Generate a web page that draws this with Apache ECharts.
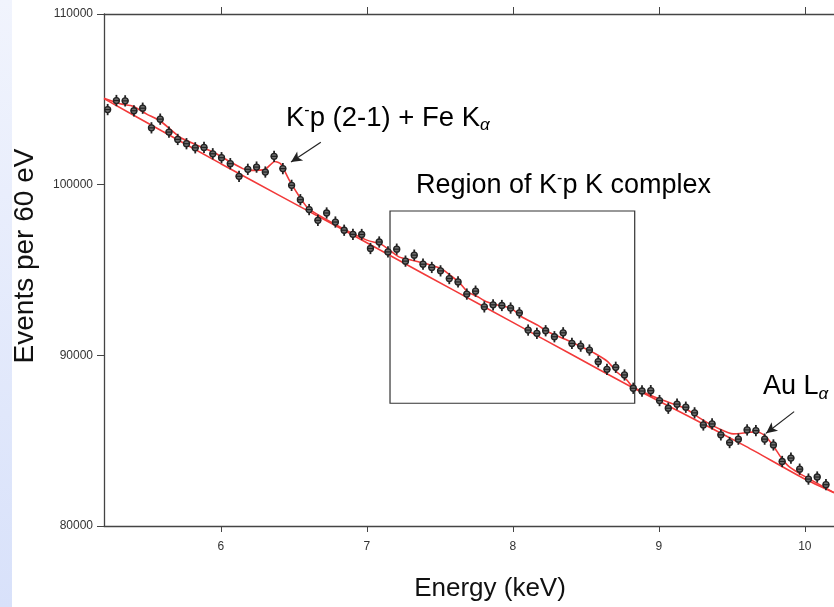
<!DOCTYPE html>
<html>
<head>
<meta charset="utf-8">
<title>Events per 60 eV</title>
<script src="https://cdn.jsdelivr.net/npm/echarts@6/dist/echarts.min.js"></script>
<style>
  html, body { margin: 0; padding: 0; background: #fff; }
  #chart { width: 834px; height: 607px; }
</style>
</head>
<body>
<div id="chart"></div>
<script>
// measured spectrum, 60 eV bins
var energies = [
  5.225, 5.285, 5.345, 5.405, 5.465, 5.525, 5.585, 5.645, 5.705, 5.765,
  5.825, 5.885, 5.945, 6.005, 6.065, 6.125, 6.185, 6.245, 6.305, 6.365,
  6.425, 6.485, 6.545, 6.605, 6.665, 6.725, 6.785, 6.845, 6.905, 6.965,
  7.025, 7.085, 7.145, 7.205, 7.265, 7.325, 7.385, 7.445, 7.505, 7.565,
  7.625, 7.685, 7.745, 7.805, 7.865, 7.925, 7.985, 8.045, 8.105, 8.165,
  8.225, 8.285, 8.345, 8.405, 8.465, 8.525, 8.585, 8.645, 8.705, 8.765,
  8.825, 8.885, 8.945, 9.005, 9.065, 9.125, 9.185, 9.245, 9.305, 9.365,
  9.425, 9.485, 9.545, 9.605, 9.665, 9.725, 9.785, 9.845, 9.905, 9.965,
  10.025, 10.085, 10.145
];
var counts = [
  104400, 104930, 104910, 104330, 104480, 103330, 103840, 103080, 102650, 102400,
  102160, 102180, 101810, 101580, 101230, 100490, 100900, 101030, 100740, 101660,
  100940, 99960, 99120, 98540, 97910, 98340, 97810, 97330, 97090, 97080,
  96260, 96640, 96060, 96220, 95520, 95870, 95340, 95150, 94950, 94500,
  94300, 93590, 93760, 92840, 92960, 92920, 92770, 92490, 91480, 91290,
  91440, 91090, 91320, 90700, 90540, 90310, 89630, 89180, 89300, 88850,
  88070, 87910, 87930, 87350, 86900, 87140, 86960, 86630, 85920, 85980,
  85340, 84890, 85090, 85630, 85590, 85090, 84750, 83780, 83980, 83330,
  82750, 82870, 82420
];
var errBar = 330;

// continuum background
var bgEnergies = [5.2, 5.6, 6.0, 6.4, 6.8, 7.2, 7.6, 8.0, 8.4, 8.8, 9.2, 9.6, 10.0, 10.2];
var bgCounts = [105040, 103130, 101230, 99370, 97530, 95660, 93790, 91930, 90060, 88200, 86450, 84650, 82750, 81950];

// full fit (background + lines)
var fitEnergies = [5.2, 5.31, 5.40, 5.49, 5.59, 5.72, 5.83, 5.95, 6.06, 6.15, 6.2, 6.3, 6.37, 6.41, 6.47, 6.54, 6.6, 6.8,
  7.0, 7.1, 7.22, 7.31, 7.38, 7.44, 7.51, 7.57, 7.63, 7.69, 7.76, 7.82, 7.9, 7.99, 8.06, 8.17, 8.24, 8.37, 8.47, 8.56,
  8.65, 8.71, 8.78, 8.82, 9.0, 9.14, 9.19, 9.3, 9.42, 9.51, 9.6, 9.67, 9.72, 9.78, 9.84, 9.89, 9.96, 10.2];
var fitCounts = [105060, 104740, 104600, 104150, 103700, 102780, 102340, 101900, 101360, 100940, 100840, 100880, 101360, 101230, 100250, 99280, 98600, 97600,
  96750, 96500, 95770, 95570, 95420, 95280, 95090, 94700, 94300, 93720, 93430, 93140, 92940, 92750, 92260, 91770, 91380, 90900, 90500, 90120,
  89630, 89040, 88560, 88160, 87450, 87030, 86840, 86220, 85670, 85400, 85470, 85530, 85340, 84750, 83980, 83490, 83100, 81960];

var xTicks = [6, 7, 8, 9, 10];
var yTicks = [80000, 90000, 100000, 110000];

var FONT = 'Liberation Sans';
var RED = '#f23a3a';

var chart = echarts.init(document.getElementById('chart'));

function zip(a, b) {
  return a.map(function (v, i) { return [v, b[i]]; });
}

function renderPoint(params, api) {
  var x = api.value(0), y = api.value(1);
  var c = api.coord([x, y]);
  var hi = api.coord([x, y + errBar]);
  var lo = api.coord([x, y - errBar]);
  return {
    type: 'group',
    children: [
      { type: 'line', shape: { x1: c[0], y1: hi[1], x2: c[0], y2: lo[1] }, style: { stroke: '#222', lineWidth: 1.8 } },
      { type: 'circle', shape: { cx: c[0], cy: c[1], r: 3 }, style: { fill: '#6e6e6e', stroke: '#222', lineWidth: 1.3 } },
      { type: 'line', shape: { x1: c[0] - 3.4, y1: c[1], x2: c[0] + 3.4, y2: c[1] }, style: { stroke: '#222', lineWidth: 1.2 } }
    ]
  };
}

var xCommon = {
  type: 'value',
  min: 5.2,
  max: 10.2,
  axisLine: { lineStyle: { color: '#444', width: 1.3 } },
  splitLine: { show: false }
};

var option = {
  animation: false,
  backgroundColor: '#fff',
  grid: { left: 104, right: -5, top: 14, bottom: 81 },
  xAxis: [
    Object.assign({}, xCommon, {
      position: 'bottom',
      axisTick: { length: 6, customValues: xTicks, lineStyle: { color: '#444' } },
      axisLabel: { customValues: xTicks, margin: 15, fontFamily: FONT, fontSize: 12, color: '#333' }
    }),
    Object.assign({}, xCommon, {
      position: 'top',
      axisTick: { length: 7, customValues: xTicks, lineStyle: { color: '#444' } },
      axisLabel: { show: false }
    })
  ],
  yAxis: {
    type: 'value',
    min: yTicks[0],
    max: yTicks[yTicks.length - 1],
    interval: 10000,
    axisLine: { show: true, lineStyle: { color: '#444', width: 1.3 } },
    axisTick: { show: true, length: 7, lineStyle: { color: '#444' } },
    axisLabel: { margin: 11, fontFamily: FONT, fontSize: 12, color: '#333', formatter: function (v) { return String(v); } },
    splitLine: { show: false }
  },
  graphic: [
    {
      type: 'rect', z: -10, silent: true,
      shape: { x: 0, y: 0, width: 12, height: 607 },
      style: { fill: new echarts.graphic.LinearGradient(0, 0, 0, 1, [
        { offset: 0, color: '#f1f4fd' }, { offset: 1, color: '#d8e1fa' }
      ]) }
    },
    {
      type: 'text', x: 490, y: 589,
      style: { text: 'Energy (keV)', font: '26px "' + FONT + '"', fill: '#111', textAlign: 'center', textVerticalAlign: 'middle' }
    },
    {
      type: 'text', x: 25, y: 256, rotation: Math.PI / 2,
      style: { text: 'Events per 60 eV', font: '28px "' + FONT + '"', fill: '#111', textAlign: 'center', textVerticalAlign: 'middle' }
    },
    {
      type: 'text', x: 286, y: 118,
      style: {
        text: '{m|K}{sup|-}{m|p (2-1) + Fe K}{sub|α}',
        textVerticalAlign: 'middle',
        rich: {
          m: { fontFamily: FONT, fontSize: 27.5, lineHeight: 31, color: '#111' },
          sup: { fontFamily: FONT, fontSize: 16, color: '#111', verticalAlign: 'top' },
          sub: { fontFamily: FONT, fontSize: 17, fontStyle: 'italic', color: '#111', verticalAlign: 'bottom' }
        }
      }
    },
    {
      type: 'text', x: 416, y: 186,
      style: {
        text: '{m|Region of K}{sup|-}{m|p K complex}',
        textVerticalAlign: 'middle',
        rich: {
          m: { fontFamily: FONT, fontSize: 27, lineHeight: 31, color: '#111' },
          sup: { fontFamily: FONT, fontSize: 16, color: '#111', verticalAlign: 'top' }
        }
      }
    },
    {
      type: 'text', x: 763, y: 387,
      style: {
        text: '{m|Au L}{sub|α}',
        textVerticalAlign: 'middle',
        rich: {
          m: { fontFamily: FONT, fontSize: 27, lineHeight: 31, color: '#111' },
          sub: { fontFamily: FONT, fontSize: 17, fontStyle: 'italic', color: '#111', verticalAlign: 'bottom' }
        }
      }
    }
  ],
  series: [
    {
      name: 'background',
      type: 'line',
      data: zip(bgEnergies, bgCounts),
      showSymbol: false,
      smooth: 0.2,
      lineStyle: { color: RED, width: 1.6 },
      z: 2,
      silent: true,
      markArea: {
        silent: true,
        itemStyle: { color: 'rgba(0,0,0,0)', borderColor: '#333', borderWidth: 1.2 },
        label: { show: false },
        data: [[{ coord: [7.159, 98457] }, { coord: [8.835, 87193] }]]
      },
      markLine: {
        silent: true,
        symbol: ['none', 'arrow'],
        symbolSize: [8, 11],
        label: { show: false },
        lineStyle: { color: '#222', width: 1.2, type: 'solid' },
        data: [
          [{ coord: [6.685, 102491] }, { coord: [6.481, 101322] }],
          [{ coord: [9.927, 86702] }, { coord: [9.735, 85439] }]
        ]
      }
    },
    {
      name: 'fit',
      type: 'line',
      data: zip(fitEnergies, fitCounts),
      showSymbol: false,
      smooth: 0.2,
      lineStyle: { color: RED, width: 1.6 },
      z: 2,
      silent: true
    },
    {
      name: 'data',
      type: 'custom',
      renderItem: renderPoint,
      data: zip(energies, counts),
      encode: { x: 0, y: 1 },
      z: 3,
      silent: true
    }
  ]
};

chart.setOption(option);
</script>
</body>
</html>
